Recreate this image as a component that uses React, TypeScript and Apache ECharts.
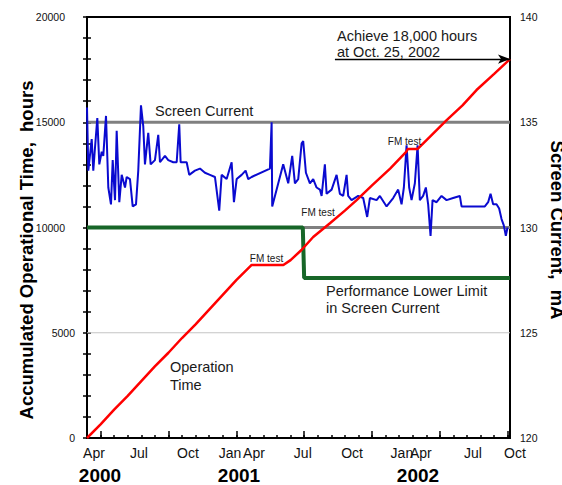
import React, { useEffect, useRef } from 'react';
import * as echarts from 'echarts';

// x values are days from the axis start (early Apr 2000)
const opDays = [0, 30, 60, 90, 120, 150, 180, 210, 240, 270, 300, 330, 364, 434, 450, 474, 500, 537, 570, 596, 630, 670, 706, 709, 731, 760, 795, 830, 861, 900, 935];
const opHours = [0, 650, 1350, 2000, 2700, 3400, 4050, 4750, 5400, 6100, 6800, 7500, 8220, 8220, 8450, 8930, 9550, 10200, 10800, 11300, 12000, 12800, 13600, 13730, 13730, 14350, 15100, 15800, 16530, 17300, 18000];

const limitDays = [0, 477, 480, 935];
const limitMA = [130, 130, 127.6, 127.6];

const scDays = [0, 2.9, 10.4, 13.9, 17.7, 22.8, 27.2, 32.5, 36.0, 42.0, 47.1, 53.0, 56.8, 61.9, 65.6, 71.4, 76.7, 84.0, 87.7, 95.0, 101.0, 108.3, 113.3, 119.3, 124.4, 128.1, 135.4, 140.7, 150.2, 157.5, 161.3, 172.3, 179.6, 190.7, 198.2, 203.9, 207.0, 220.3, 226.0, 238.6, 249.7, 260.7, 271.8, 282.8, 292.3, 297.6, 308.7, 319.7, 324.8, 330.8, 341.8, 350.6, 356.4, 363.9, 404.3, 408.1, 409.4, 433.7, 444.8, 453.6, 459.6, 466.9, 474.4, 477.9, 483.9, 492.7, 500.0, 507.5, 514.8, 518.6, 525.8, 529.6, 540.7, 551.7, 559.0, 566.3, 573.8, 577.3, 584.8, 599.4, 610.5, 619.3, 625.3, 640.1, 647.4, 662.2, 676.8, 687.8, 695.3, 700.4, 706.4, 712.1, 717.4, 724.7, 730.7, 735.7, 743.0, 749.0, 754.1, 759.4, 763.8, 772.7, 783.7, 794.8, 809.3, 824.1, 827.9, 838.9, 853.5, 868.3, 879.4, 886.7, 892.0, 897.7, 905.2, 911.0, 916.3, 921.3, 925.8, 929.5];
const scMA = [135.7, 132.7, 134.2, 132.7, 133.8, 135.2, 133.0, 133.6, 133.4, 135.3, 131.9, 131.1, 133.2, 131.3, 134.6, 131.2, 132.5, 131.9, 132.4, 132.3, 131.0, 131.1, 132.7, 135.8, 134.8, 133.0, 134.5, 133.0, 133.2, 134.4, 133.1, 133.4, 133.2, 133.1, 133.1, 134.9, 133.1, 133.1, 132.5, 132.7, 132.8, 132.6, 132.5, 132.4, 130.8, 132.5, 132.3, 133.1, 131.2, 132.3, 132.5, 132.7, 132.3, 132.4, 132.8, 135.0, 131.0, 133.0, 132.1, 133.4, 132.1, 132.3, 134.0, 134.1, 132.6, 132.1, 132.3, 131.9, 131.8, 131.5, 133.0, 131.6, 131.8, 132.5, 131.6, 131.5, 132.5, 131.5, 131.3, 131.5, 131.4, 130.5, 131.4, 131.3, 131.5, 131.0, 131.4, 131.8, 131.1, 131.9, 133.9, 131.9, 131.3, 132.1, 133.9, 131.3, 131.5, 131.9, 131.1, 129.6, 131.3, 131.2, 131.5, 131.3, 131.4, 131.5, 131.0, 131.0, 131.0, 131.0, 131.0, 131.2, 131.6, 131.1, 131.1, 130.9, 130.4, 130.1, 129.6, 130.0];

const refLevels = [135, 130, 125];
const refWidths = [3, 3, 1];
const refColors = ['#808080', '#808080', '#c4c4c4'];

const monthLabels = ['Apr', 'Jul', 'Oct', 'Jan', 'Apr', 'Jul', 'Oct', 'Jan', 'Apr', 'Jul', 'Oct'];
const monthLabelDays = [15.5, 115, 223, 316, 369, 477, 586, 696, 738, 853, 935];
const yearLabels = ['2000', '2001', '2002'];
const yearLabelDays = [28.7, 336, 731.6];
const majorTickDays = [30, 180, 330, 480, 630, 780, 930];

const leftTitle = 'Accumulated Operational Time,  hours';
const rightTitle = 'Screen Current,  mA';

const FONT = "'Liberation Sans', Arial, sans-serif";

export default function App() {
  const ref = useRef<HTMLDivElement>(null);
  useEffect(() => {
    if (!ref.current) return;
    const chart = echarts.init(ref.current, null, { renderer: 'svg' });
    const minorTicks: number[] = [];
    for (let d = 0; d <= 935; d += 30) minorTicks.push(d);

    const txt = (text: string, x: number, y: number, size: number, align = 'left') => ({
      type: 'text',
      x,
      y,
      style: { text, fill: '#1a1a1a', font: `${size}px ${FONT}`, textAlign: align, textVerticalAlign: 'middle' },
      z: 100,
    });

    const refSeries = refLevels.map((lv, i) => ({
      type: 'line',
      name: 'ref' + lv,
      xAxisIndex: 0,
      yAxisIndex: 1,
      data: [[0, lv], [935, lv]],
      showSymbol: false,
      silent: true,
      lineStyle: { color: refColors[i], width: refWidths[i] },
      z: 1,
    }));

    chart.setOption({
      animation: false,
      backgroundColor: '#fff',
      textStyle: { fontFamily: FONT },
      grid: {
        left: 87, top: 17, width: 423, height: 421,
        outerBoundsMode: 'none', containLabel: false,
        show: true, borderColor: '#000', borderWidth: 2, backgroundColor: 'transparent',
      },
      xAxis: [
        {
          type: 'value', min: 0, max: 935,
          axisLine: { show: true, lineStyle: { color: '#000', width: 2 } },
          axisTick: { show: true, inside: true, length: 3, customValues: minorTicks, lineStyle: { color: '#000', width: 1.5 } },
          axisLabel: {
            customValues: monthLabelDays,
            showMaxLabel: true, showMinLabel: true,
            margin: 8, color: '#111', fontSize: 14, fontFamily: FONT,
            formatter: (v: number) => {
              const i = monthLabelDays.findIndex((d) => Math.abs(d - v) < 0.01);
              if (i < 0) return '';
              return i === monthLabelDays.length - 1 ? `{last|${monthLabels[i]}}` : monthLabels[i];
            },
            rich: { last: { padding: [0, 0, 0, 10], fontSize: 14, color: '#111', fontFamily: FONT } },
          },
          splitLine: { show: false },
        },
        {
          type: 'value', min: 0, max: 935, position: 'bottom',
          axisLine: { show: false },
          axisTick: { show: true, inside: true, length: 7, customValues: majorTickDays, lineStyle: { color: '#000', width: 1.5 } },
          axisLabel: {
            customValues: yearLabelDays,
            showMaxLabel: true, showMinLabel: true,
            margin: 28, color: '#000', fontSize: 19, fontWeight: 'bold', fontFamily: FONT,
            formatter: (v: number) => {
              const i = yearLabelDays.findIndex((d) => Math.abs(d - v) < 0.01);
              return i < 0 ? '' : yearLabels[i];
            },
          },
          splitLine: { show: false },
        },
      ],
      yAxis: [
        {
          type: 'value', min: 0, max: 20000, interval: 1000, position: 'left',
          axisLine: { show: true, lineStyle: { color: '#000', width: 2 } },
          axisTick: { show: true, inside: true, length: 4, lineStyle: { color: '#000', width: 1.5 } },
          axisLabel: {
            margin: 12, color: '#111', fontSize: 10.5, fontFamily: FONT,
            formatter: (v: number) => (v % 5000 === 0 ? (v >= 10000 ? `{w|${v}}` : `${v}`) : ''),
            rich: { w: { padding: [0, 10, 0, 0], fontSize: 10.5, color: '#111', fontFamily: FONT } },
          },
          splitLine: { show: false },
        },
        {
          type: 'value', min: 120, max: 140, interval: 1, position: 'right',
          axisLine: { show: true, lineStyle: { color: '#000', width: 2 } },
          axisTick: { show: true, inside: true, length: 4, lineStyle: { color: '#000', width: 1.5 } },
          axisLabel: {
            margin: 10, color: '#111', fontSize: 10.5, fontFamily: FONT,
            formatter: (v: number) => (v % 5 === 0 ? `${v}` : ''),
          },
          splitLine: { show: false },
        },
      ],
      series: [
        ...refSeries,
        {
          type: 'line', name: 'Performance Lower Limit', xAxisIndex: 0, yAxisIndex: 1,
          data: limitDays.map((d, i) => [d, limitMA[i]]),
          showSymbol: false, lineStyle: { color: '#176628', width: 4 }, z: 2,
        },
        {
          type: 'line', name: 'Screen Current', xAxisIndex: 0, yAxisIndex: 1,
          data: scDays.map((d, i) => [d, scMA[i]]),
          showSymbol: false, lineStyle: { color: '#0a0ad0', width: 2 }, z: 3,
        },
        {
          type: 'line', name: 'Operation Time', xAxisIndex: 0, yAxisIndex: 0,
          data: opDays.map((d, i) => [d, opHours[i]]),
          showSymbol: false, lineStyle: { color: '#ff0000', width: 2.5 }, z: 4,
          markLine: {
            silent: true,
            symbol: ['none', 'arrow'],
            symbolSize: [7, 12],
            label: { show: false },
            lineStyle: { color: '#000', width: 1.3, type: 'solid' },
            data: [[{ coord: [548, 18000] }, { coord: [935, 18000] }]],
          },
        },
      ],
      graphic: [
        {
          type: 'text', x: 26, y: 250, rotation: Math.PI / 2, z: 100,
          style: { text: leftTitle, fill: '#000', font: `bold 18.5px ${FONT}`, textAlign: 'center', textVerticalAlign: 'middle' },
        },
        {
          type: 'text', x: 557, y: 230, rotation: -Math.PI / 2, z: 100,
          style: { text: rightTitle, fill: '#000', font: `bold 18.5px ${FONT}`, textAlign: 'center', textVerticalAlign: 'middle' },
        },
        txt('Screen Current', 155, 111, 14.5),
        txt('Achieve 18,000 hours', 337, 36, 14.5),
        txt('at Oct. 25, 2002', 337, 52, 14.5),
        txt('FM test', 266.5, 258.5, 10, 'center'),
        txt('FM test', 318, 212.5, 10, 'center'),
        txt('FM test', 404.5, 141, 10, 'center'),
        txt('Performance Lower Limit', 326, 291, 14.5),
        txt('in Screen Current', 326, 307.5, 14.5),
        txt('Operation', 170, 367, 14.5),
        txt('Time', 170, 384.5, 14.5),
      ],
    });
    return () => chart.dispose();
  }, []);
  return <div ref={ref} style={{ position: 'fixed', left: 0, top: 0, width: 562, height: 485 }} />;
}
